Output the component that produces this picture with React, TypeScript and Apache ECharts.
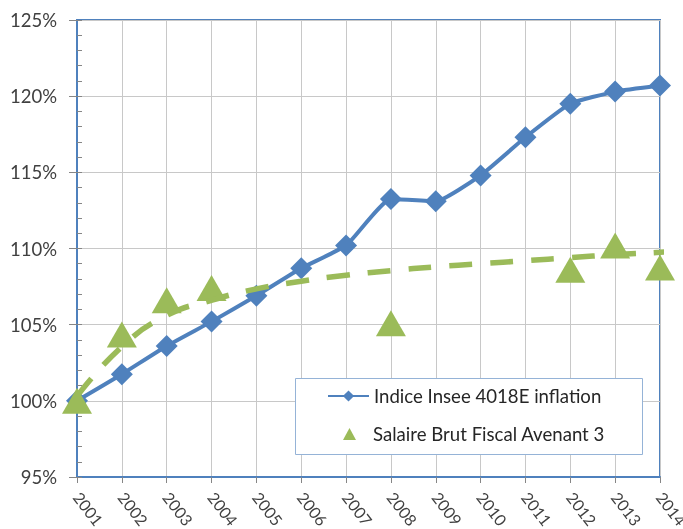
import React, { useEffect, useRef } from "react";
import * as echarts from "echarts";

const years = [2001, 2002, 2003, 2004, 2005, 2006, 2007, 2008, 2009, 2010, 2011, 2012, 2013, 2014];
const inflation = [100.0, 101.75, 103.6, 105.2, 106.9, 108.7, 110.2, 113.25, 113.1, 114.8, 117.3, 119.5, 120.3, 120.7];
const salaryYears = [2001, 2002, 2003, 2004, 2008, 2012, 2013, 2014];
const salary = [100.0, 104.35, 106.6, 107.4, 105.1, 108.6, 110.2, 108.75];
const trendYears = [2001, 2002, 2003, 2004, 2005, 2006, 2007, 2008, 2009, 2010, 2011, 2012, 2013, 2014, 2014.51];
const trend = [100.3, 103.55, 105.6, 106.6, 107.35, 107.85, 108.25, 108.55, 108.8, 109.0, 109.2, 109.4, 109.6, 109.75, 109.85];
const yTicks = { min: 95, max: 125, step: 5 };

const SERIES_A = "Indice Insee 4018E inflation";
const SERIES_B = "Salaire Brut Fiscal Avenant 3";
const BLUE = "#4F81BD";
const GREEN = "#9BBB59";
const FONT = "Lato";

export default function App() {
  const ref = useRef<HTMLDivElement>(null);
  useEffect(() => {
    if (!ref.current) return;
    const chart = echarts.init(ref.current, undefined, { renderer: "svg" });
    chart.setOption({
      animation: false,
      grid: {
        left: 77, right: 23, top: 20, bottom: 52,
        outerBoundsMode: "none", containLabel: false,
        show: true, borderColor: BLUE, borderWidth: 2, backgroundColor: "transparent",
      },
      xAxis: {
        type: "value",
        min: years[0],
        max: years[years.length - 1],
        interval: 1,
        axisLine: { show: true, lineStyle: { color: BLUE, width: 2 } },
        axisTick: { show: true, length: 6, lineStyle: { color: "#868686" } },
        axisLabel: { rotate: -52, margin: 17, fontSize: 16, fontFamily: FONT, color: "#404040", formatter: (v: number) => String(v) },
        splitLine: { show: true, lineStyle: { color: "#C8C8C8", width: 1 } },
      },
      yAxis: [
        {
          type: "value",
          min: yTicks.min,
          max: yTicks.max,
          interval: yTicks.step,
          axisLine: { show: true, lineStyle: { color: BLUE, width: 2 } },
          axisTick: { show: true, length: 8, lineStyle: { color: "#868686" } },
          axisLabel: { margin: 20, fontSize: 18.5, fontFamily: FONT, color: "#404040", formatter: (v: number) => v + "%" },
          splitLine: { show: true, lineStyle: { color: "#C8C8C8", width: 1 } },
        },
        {
          type: "value",
          position: "left",
          min: yTicks.min,
          max: yTicks.max,
          interval: 1,
          axisLine: { show: false },
          axisTick: { show: true, inside: true, length: 5, lineStyle: { color: "#868686" } },
          axisLabel: { show: false },
          splitLine: { show: false },
        },
      ],
      legend: [
        {
          data: [SERIES_A],
          orient: "vertical",
          left: 327,
          top: 386,
          padding: 0,
          z: 10,
          itemWidth: 41,
          itemHeight: 14,
          textStyle: { fontSize: 18.6, fontFamily: FONT, color: "#262626", lineHeight: 20 },
        },
        {
          data: [SERIES_B],
          orient: "vertical",
          left: 343,
          top: 424,
          padding: 0,
          z: 10,
          itemWidth: 13,
          itemHeight: 12,
          textStyle: { fontSize: 18.6, fontFamily: FONT, color: "#262626", lineHeight: 20, padding: [0, 0, 0, 12] },
        },
      ],
      graphic: [
        {
          type: "rect",
          left: 295,
          top: 378,
          shape: { width: 347, height: 76 },
          style: { fill: "#ffffff", stroke: "#95B3D7", lineWidth: 1 },
          z: 6,
        },
      ],
      series: [
        {
          name: SERIES_A,
          type: "line",
          data: years.map((y, i) => [y, inflation[i]]),
          symbol: "diamond",
          symbolSize: 22,
          smooth: 0.15,
          lineStyle: { color: BLUE, width: 4 },
          itemStyle: { color: BLUE },
          z: 2,
        },
        {
          name: SERIES_B,
          type: "scatter",
          data: salaryYears.map((y, i) => [y, salary[i]]),
          symbol: "triangle",
          symbolSize: [30, 26],
          itemStyle: { color: GREEN, opacity: 1 },
          z: 3,
        },
        {
          name: "trend",
          type: "line",
          data: trendYears.map((y, i) => [y, trend[i]]),
          symbol: "none",
          smooth: true,
          clip: false,
          silent: true,
          lineStyle: { color: GREEN, width: 5.5, type: [23, 18], cap: "butt" },
          z: 4,
        },
      ],
    });
    return () => chart.dispose();
  }, []);
  return <div ref={ref} style={{ position: "fixed", left: 0, top: 0, width: 683, height: 529 }} />;
}
